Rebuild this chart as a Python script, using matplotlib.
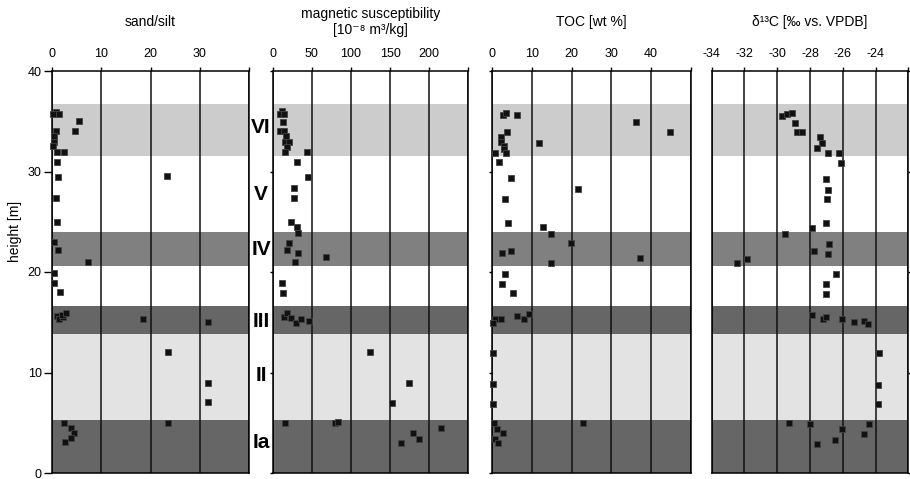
import matplotlib
matplotlib.use("Agg")
import matplotlib.pyplot as plt

plt.rcParams['font.family'] = ['Liberation Sans', 'DejaVu Sans']

# sand/silt ratio
sand_h = [35.9, 35.7, 35.7, 35.0, 34.0, 34.0, 33.5, 32.9, 32.5, 31.9, 31.9, 30.9, 29.5, 29.6, 27.4,
          25.0, 23.0, 22.2, 21.0, 19.9, 18.9, 18.0, 15.6, 15.3, 15.5, 15.75, 15.9, 15.3, 15.0, 12.0,
          9.0, 7.05, 5.0, 5.0, 4.5, 4.0, 3.45, 3.05]
sand_v = [0.8, 0.3, 1.5, 5.5, 0.8, 4.7, 0.4, 0.4, 0.3, 1.1, 2.4, 1.1, 1.2, 23.4, 0.75,
          1.0, 0.4, 1.2, 7.3, 0.5, 0.5, 1.6, 1.1, 1.35, 2.2, 2.0, 2.8, 18.5, 31.6, 23.5,
          31.6, 31.6, 23.5, 2.4, 3.8, 4.5, 3.8, 2.6]

# magnetic susceptibility
mag_h = [36.05, 35.7, 35.7, 34.9, 34.0, 34.0, 33.5, 32.9, 32.9, 32.4, 31.9, 31.9, 30.9, 29.5, 28.4,
         27.4, 25.0, 24.5, 23.9, 22.9, 22.2, 21.9, 21.5, 21.0, 18.9, 17.9, 15.55, 15.9, 15.4, 14.9,
         15.3, 15.15, 12.0, 8.95, 7.0, 4.95, 4.95, 5.1, 4.5, 3.95, 3.4, 3.0]
mag_v = [11.5, 9.8, 14.9, 13.6, 9.8, 14.9, 16.7, 15.8, 21.3, 17.9, 15.8, 43.6, 31.5, 44.9, 27.3,
         27.3, 23.1, 30.8, 32.8, 20.9, 18.7, 32.1, 68.7, 28.6, 11.5, 13.6, 14.1, 18.7, 23.1, 29.5,
         36.3, 46.2, 124.7, 174.4, 152.9, 15.4, 79.9, 83.7, 215.4, 179, 187.6, 164.5]

# TOC
toc_h = [35.6, 35.85, 35.6, 34.9, 33.9, 33.9, 33.4, 32.9, 32.5, 32.2, 32.8, 31.8, 31.8, 30.9, 29.4,
         28.3, 27.3, 24.9, 24.45, 23.8, 22.85, 22.1, 21.85, 21.4, 20.9, 19.8, 18.8, 17.9, 15.3, 15.3,
         14.9, 15.6, 15.3, 15.8, 11.9, 8.9, 6.9, 5.0, 4.95, 4.4, 3.95, 3.35, 2.95]
toc_v = [2.6, 3.45, 6.1, 36.1, 44.9, 3.7, 2.2, 2.2, 2.9, 2.9, 11.7, 3.4, 0.76, 1.76, 4.6,
         21.5, 3.3, 3.95, 12.9, 14.9, 19.8, 4.8, 2.4, 37.2, 14.7, 3.3, 2.4, 5.2, 0.6, 2.3,
         0.25, 6.3, 8.0, 9.2, 0.25, 0.25, 0.25, 22.8, 0.4, 1.3, 2.6, 0.76, 1.4]

# d13C
d13_h = [35.55, 35.7, 35.8, 34.8, 33.9, 33.9, 33.4, 32.8, 32.3, 31.8, 31.8, 30.8, 29.3, 28.2, 27.3,
         24.85, 24.35, 23.75, 22.8, 22.05, 21.8, 21.3, 20.9, 19.8, 18.8, 17.8, 15.75, 15.3, 15.55, 15.3,
         15.0, 15.15, 14.8, 11.9, 8.8, 6.9, 4.95, 4.85, 4.85, 4.35, 3.85, 3.25, 2.9]
d13_v = [-29.72, -29.40, -29.07, -28.91, -28.79, -28.50, -27.37, -27.24, -27.57, -26.90, -26.25, -26.11, -27.0, -26.88, -26.94,
         -27.0, -27.88, -29.52, -26.84, -27.77, -26.88, -31.87, -32.44, -26.39, -27.0, -27.04, -27.85, -27.2, -27.0, -26.03,
         -25.30, -24.69, -24.44, -23.76, -23.86, -23.86, -29.3, -27.97, -24.37, -26.03, -24.73, -26.5, -27.57]

# stratigraphic units
band_bottom = [31.5, 20.6, 13.8, 5.27, 0.0]
band_top = [36.7, 24.0, 16.6, 13.8, 5.27]
band_color = ['#cccccc', '#808080', '#666666', '#e3e3e3', '#666666']
unit_names = ['VI', 'V', 'IV', 'III', 'II', 'Ia']
unit_h = [34.4, 27.7, 22.25, 15.1, 9.75, 3.0]

panels = [
    (sand_v, sand_h, 'sand/silt', (0, 40), [0, 10, 20, 30, 40], ['0', '10', '20', '30', '']),
    (mag_v, mag_h, 'magnetic susceptibility\n[10⁻⁸ m³/kg]', (0, 250), [0, 50, 100, 150, 200, 250],
     ['0', '50', '100', '150', '200', '']),
    (toc_v, toc_h, 'TOC [wt %]', (0, 50), [0, 10, 20, 30, 40, 50], ['0', '10', '20', '30', '40', '']),
    (d13_v, d13_h, 'δ¹³C [‰ vs. VPDB]', (-34, -22), [-34, -32, -30, -28, -26, -24, -22],
     ['-34', '-32', '-30', '-28', '-26', '-24', '']),
]
lefts = [52, 272.7, 492.3, 711.7]
widths = [197, 195.6, 198.4, 196.6]

fig = plt.figure(figsize=(9.1, 4.79), dpi=100)
axes = []
for i, (xv, yv, title, xlim, ticks, labels) in enumerate(panels):
    ax = fig.add_axes([lefts[i] / 910, 6 / 479, widths[i] / 910, 402 / 479])
    axes.append(ax)
    for b, t, c in zip(band_bottom, band_top, band_color):
        ax.axhspan(b, t, color=c, lw=0, zorder=0)
    ax.set_xlim(xlim)
    ax.set_ylim(0, 40)
    ax.set_xticks(ticks)
    ax.set_xticklabels(labels)
    ax.xaxis.tick_top()
    ax.tick_params(axis='x', length=3, width=1, pad=5, labelsize=9)
    for x in ticks:
        ax.axvline(x, color='#111111', lw=1.1, zorder=1)
    ax.plot(xv, yv, 's', ms=4.6, mfc='#111111', mec='#444444', mew=0.6, zorder=3, clip_on=False)
    for s in ax.spines.values():
        s.set_linewidth(1.1)
        s.set_zorder(2)
    ax.set_yticks([0, 10, 20, 30, 40])
    if i == 0:
        ax.tick_params(axis='y', length=5.5, width=1, pad=2, labelsize=9)
        ax.set_ylabel('height [m]', fontsize=10)
        ax.yaxis.set_label_coords(-0.15, 0.6)
    elif i == 3:
        ax.yaxis.tick_right()
        ax.tick_params(axis='y', length=2, width=1, labelright=False)
    else:
        ax.tick_params(axis='y', length=2, width=1, labelleft=False)
    ax.text(0.5, 1.122, title, transform=ax.transAxes, ha='center', va='center',
            fontsize=10, linespacing=1.1)

for name, h in zip(unit_names, unit_h):
    axes[1].text(-0.06, h, name, transform=axes[1].get_yaxis_transform(), ha='center', va='center',
                 fontsize=15, fontweight='bold')

plt.savefig('out.png', dpi=100)
